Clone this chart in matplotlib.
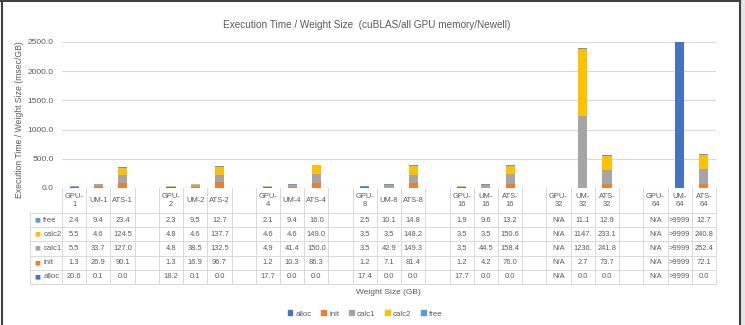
import numpy as np
import matplotlib.pyplot as plt
from matplotlib.patches import Patch, Rectangle
from matplotlib.lines import Line2D
import matplotlib.transforms as mtransforms

plt.rcParams['font.family'] = ['Liberation Sans Narrow', 'Liberation Sans', 'DejaVu Sans']

# categories (blank strings are spacer columns between groups)
categories = ['GPU-\n1', 'UM-1', 'ATS-1', '',
              'GPU-\n2', 'UM-2', 'ATS-2', '',
              'GPU-\n4', 'UM-4', 'ATS-4', '',
              'GPU-\n8', 'UM-8', 'ATS-8', '',
              'GPU-\n16', 'UM-\n16', 'ATS-\n16', '',
              'GPU-\n32', 'UM-\n32', 'ATS-\n32', '',
              'GPU-\n64', 'UM-\n64', 'ATS-\n64']

# table text as shown in the reference ('' = spacer)
alloc_txt = ['20.6', '0.1', '0.0', '', '18.2', '0.1', '0.0', '', '17.7', '0.0', '0.0', '',
             '17.4', '0.0', '0.0', '', '17.7', '0.0', '0.0', '', 'N/A', '0.0', '0.0', '',
             'N/A', '>9999', '0.0']
init_txt = ['1.3', '26.9', '90.1', '', '1.3', '16.9', '96.7', '', '1.2', '10.3', '86.3', '',
            '1.2', '7.1', '81.4', '', '1.2', '4.2', '76.0', '', 'N/A', '2.7', '73.7', '',
            'N/A', '>9999', '72.1']
calc1_txt = ['5.5', '33.7', '127.0', '', '4.8', '38.5', '132.5', '', '4.9', '41.4', '150.0', '',
             '3.5', '42.9', '149.3', '', '3.5', '44.5', '158.4', '', 'N/A', '1236.', '241.8', '',
             'N/A', '>9999', '252.4']
calc2_txt = ['5.5', '4.6', '124.5', '', '4.8', '4.6', '137.7', '', '4.6', '4.6', '149.0', '',
             '3.5', '3.5', '148.2', '', '3.5', '3.5', '150.6', '', 'N/A', '1147.', '233.1', '',
             'N/A', '>9999', '240.8']
free_txt = ['2.4', '9.4', '23.4', '', '2.3', '9.5', '12.7', '', '2.1', '9.4', '16.0', '',
            '2.5', '10.1', '14.8', '', '1.9', '9.6', '13.2', '', 'N/A', '11.1', '12.9', '',
            'N/A', '>9999', '12.7']


def to_num(lst):
    out = []
    for s in lst:
        if s in ('', 'N/A'):
            out.append(0.0)
        elif s == '>9999':
            out.append(9999.0)
        else:
            out.append(float(s))
    return np.array(out)


series_names = ['alloc', 'init', 'calc1', 'calc2', 'free']
series_txt = [alloc_txt, init_txt, calc1_txt, calc2_txt, free_txt]
colors = ['#4472C4', '#ED7D31', '#A5A5A5', '#FFC000', '#5B9BD5']
txt_color = '#595959'
grid_color = '#D9D9D9'

W, H = 745, 325
fig = plt.figure(figsize=(W / 100, H / 100), dpi=100)
ax = fig.add_axes([62 / W, 1 - 188 / H, 654 / W, 146 / H])

x = np.arange(len(categories))
bottom = np.zeros(len(categories))
for name, txt, c in zip(series_names, series_txt, colors):
    vals = to_num(txt)
    ax.bar(x, vals, 0.38, bottom=bottom, color=c, zorder=3)
    bottom += vals

ax.set_xlim(-0.5, len(categories) - 0.5)
ax.set_ylim(0, 2500)
ax.set_yticks(np.arange(0, 2501, 500))
ax.set_yticklabels([f'{v:.1f}' for v in np.arange(0, 2501, 500)], fontsize=6, color=txt_color)
ax.tick_params(axis='y', length=0, pad=6)
ax.set_xticks([])
ax.yaxis.grid(True, color=grid_color, lw=0.8, zorder=0)
for s in ax.spines.values():
    s.set_visible(False)
ax.axhline(0, color=grid_color, lw=0.8, zorder=4)

ax.set_ylabel('Execution Time / Weight Size (msec/GB)', fontsize=6.2, color=txt_color)
ax.yaxis.set_label_coords(-0.058, 0.47)

fig.text(367 / W, 1 - 25 / H, 'Execution Time / Weight Size  (cuBLAS/all GPU memory/Newell)',
         ha='center', va='center', fontsize=7.2, color=txt_color)

# data table under the axes
tr = mtransforms.blended_transform_factory(ax.transData, ax.transAxes)


def ya(p):
    return (188 - p) / 146


row_edges = [188, 213, 227, 241, 255.5, 270, 284]
xl = -0.5 - (64 - 32) / (654 / len(categories))
n = len(categories)
for i, p in enumerate(row_edges[1:]):
    ax.add_line(Line2D([xl, n - 0.5], [ya(p), ya(p)], transform=tr, color=grid_color,
                       lw=0.7, clip_on=False))
for k in range(n + 1):
    ax.add_line(Line2D([k - 0.5, k - 0.5], [ya(188), ya(284)], transform=tr, color=grid_color,
                       lw=0.7, clip_on=False))
ax.add_line(Line2D([xl, xl], [ya(213), ya(284)], transform=tr, color=grid_color,
                   lw=0.7, clip_on=False))

for k, lab in enumerate(categories):
    ax.text(k, ya(200.5), lab, transform=tr, ha='center', va='center', fontsize=5.4,
            color=txt_color, linespacing=1.3)

row_names = ['free', 'calc2', 'calc1', 'init', 'alloc']
row_txt = [free_txt, calc2_txt, calc1_txt, init_txt, alloc_txt]
row_cols = ['#5B9BD5', '#FFC000', '#A5A5A5', '#ED7D31', '#4472C4']
for r, (name, txt, c) in enumerate(zip(row_names, row_txt, row_cols)):
    yc = ya((row_edges[r + 1] + row_edges[r + 2]) / 2)
    ax.text(xl + 0.2, yc, '■', transform=tr, ha='left', va='center', fontsize=4.5,
            color=c, family='DejaVu Sans')
    ax.text(xl + 0.55, yc, name, transform=tr, ha='left', va='center', fontsize=5.6,
            color=txt_color)
    for k, s in enumerate(txt):
        ax.text(k, yc, s, transform=tr, ha='center', va='center', fontsize=5.4,
                color=txt_color)

fig.text(388 / W, 1 - 292 / H, 'Weight Size (GB)', ha='center', va='center',
         fontsize=6, color=txt_color)

handles = [Patch(color=c, label=nm) for nm, c in zip(series_names, colors)]
fig.legend(handles=handles, loc='center', bbox_to_anchor=(365 / W, 1 - 314 / H), ncol=5,
           frameon=False, fontsize=5.7, handlelength=0.6, handleheight=0.6,
           handletextpad=0.4, columnspacing=1.2, labelcolor=txt_color)

# outer frame
fig.add_artist(Line2D([1.5 / W, 1.5 / W], [0, 1], color='#404040', lw=1.5,
                      transform=fig.transFigure))
fig.add_artist(Line2D([0, 740 / W], [1 - 1 / H, 1 - 1 / H], color='#404040', lw=1.5,
                      transform=fig.transFigure))
fig.add_artist(Line2D([740 / W, 740 / W], [0, 1], color='#404040', lw=1.5,
                      transform=fig.transFigure))
fig.add_artist(Rectangle((741 / W, 0), 4 / W, 1, color='#E6E6E6', transform=fig.transFigure))

fig.savefig('out.png', dpi=100)
